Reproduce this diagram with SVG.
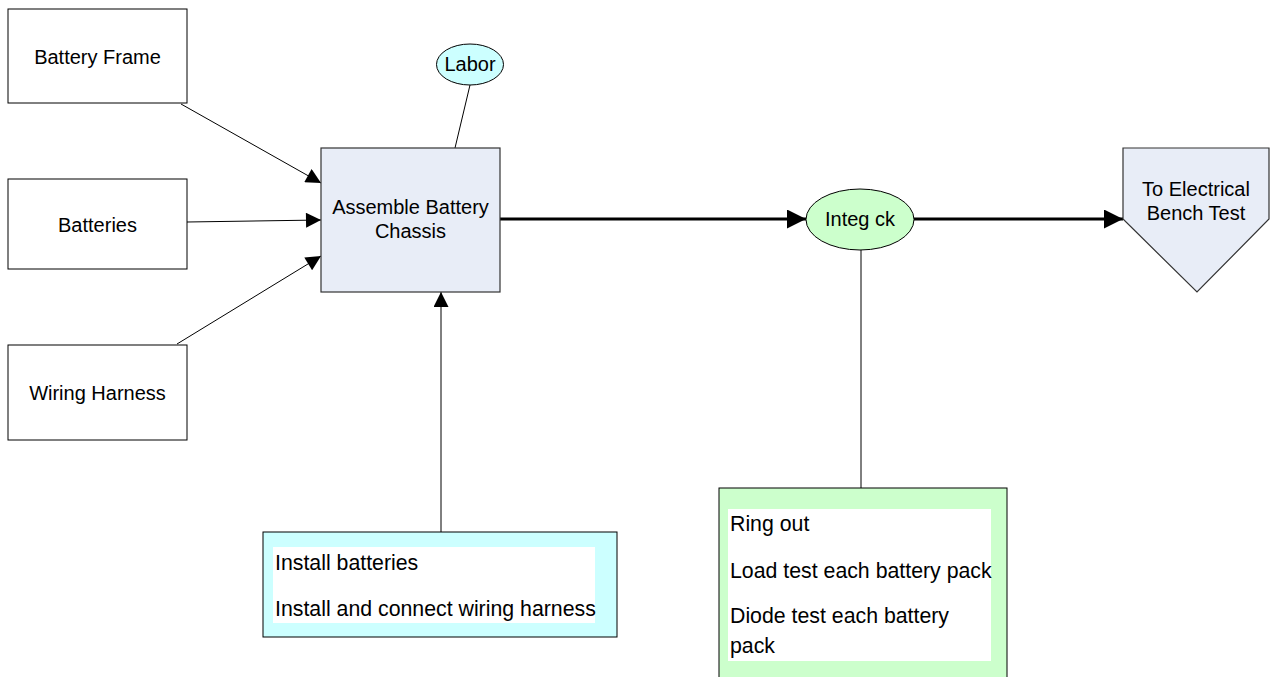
<svg xmlns="http://www.w3.org/2000/svg" width="1276" height="677" viewBox="0 0 1276 677">
<style>
text{font-family:"Liberation Sans",Arial,sans-serif;font-size:20px;fill:#000}
.c{text-anchor:middle}
.l{font-size:21.3px}
.box{fill:#fff;stroke:#000;stroke-width:1}
.proc{fill:#e8edf7;stroke:#333;stroke-width:1.2}
.thin{stroke:#000;stroke-width:1;fill:none}
.thick{stroke:#000;stroke-width:3;fill:none}
</style>
<defs>
<marker id="a" viewBox="0 0 10 10" refX="10" refY="5" markerWidth="20" markerHeight="15" markerUnits="userSpaceOnUse" orient="auto"><path d="M0,0L10,5L0,10z" fill="#000"/></marker>
<marker id="b" viewBox="0 0 10 10" refX="10" refY="5" markerWidth="29" markerHeight="19" markerUnits="userSpaceOnUse" orient="auto"><path d="M0,0L10,5L0,10z" fill="#000"/></marker>
</defs>
<rect width="1276" height="677" fill="#fff"/>
<g id="connectors">
<line class="thin" x1="181" y1="104" x2="321" y2="183" marker-end="url(#a)"/>
<line class="thin" x1="187" y1="222" x2="321" y2="220" marker-end="url(#a)"/>
<line class="thin" x1="177" y1="344" x2="321" y2="256" marker-end="url(#a)"/>
<line class="thin" x1="470" y1="85" x2="455" y2="148"/>
<line class="thin" x1="441" y1="532" x2="441" y2="292" marker-end="url(#a)"/>
<line class="thick" x1="500" y1="219" x2="806" y2="219" marker-end="url(#b)"/>
<line class="thick" x1="914" y1="219" x2="1123" y2="219" marker-end="url(#b)"/>
<line class="thin" x1="861" y1="250" x2="861" y2="488"/>
</g>
<g id="battery-frame"><rect class="box" x="8" y="9" width="179" height="94"/><text class="c" x="97.5" y="64">Battery Frame</text></g>
<g id="batteries"><rect class="box" x="8" y="179" width="179" height="90"/><text class="c" x="97.5" y="232">Batteries</text></g>
<g id="wiring-harness"><rect class="box" x="8" y="345" width="179" height="95"/><text class="c" x="97.5" y="400">Wiring Harness</text></g>
<g id="assemble"><rect class="proc" x="321" y="148" width="179" height="144"/><text class="c" x="410.5" y="214">Assemble Battery</text><text class="c" x="410.5" y="238">Chassis</text></g>
<g id="labor"><ellipse cx="470" cy="64.5" rx="33.5" ry="20.5" fill="#ccffff" stroke="#000"/><text class="c" x="470" y="71">Labor</text></g>
<g id="integ-ck"><ellipse cx="860" cy="219.5" rx="54" ry="30.5" fill="#ccffcc" stroke="#000"/><text class="c" x="860" y="226">Integ ck</text></g>
<g id="to-bench"><path d="M1123,148H1269V219L1197,292L1123,219Z" fill="#e8edf7" stroke="#333" stroke-width="1.2"/><text class="c" x="1196" y="196">To Electrical</text><text class="c" x="1196" y="220">Bench Test</text></g>
<g id="install"><rect x="263" y="532" width="354" height="105" fill="#ccffff" stroke="#000"/><rect x="273" y="547" width="322" height="76" fill="#fff"/><text class="l" x="275" y="570">Install batteries</text><text class="l" x="275" y="616">Install and connect wiring harness</text></g>
<g id="tests"><rect x="719" y="488" width="288" height="200" fill="#ccffcc" stroke="#000"/><rect x="728" y="509" width="263" height="152" fill="#fff"/><text class="l" x="730" y="531">Ring out</text><text class="l" x="730" y="578">Load test each battery pack</text><text class="l" x="730" y="623">Diode test each battery</text><text class="l" x="730" y="653">pack</text></g>
</svg>
